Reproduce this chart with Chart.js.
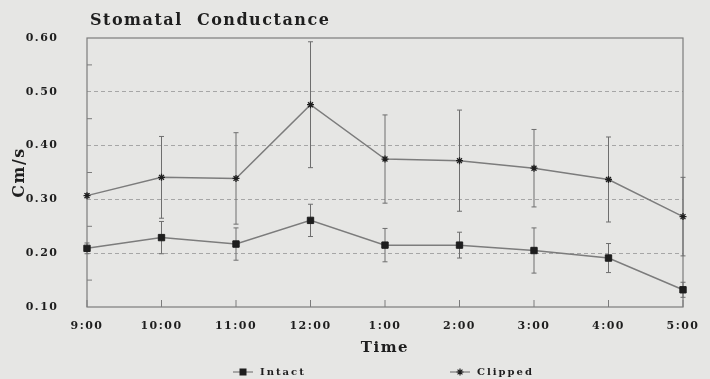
<!DOCTYPE html>
<html>
<head>
<meta charset="utf-8">
<script src="https://cdn.jsdelivr.net/npm/chart.js@4"></script>
<style>
  html, body { margin: 0; padding: 0; background: #e6e6e4; }
  #wrap { width: 710px; height: 379px; }
</style>
</head>
<body>
<div id="wrap"><canvas id="chart"></canvas></div>
<script>
// stomatal conductance, intact vs clipped
const times = ['9:00', '10:00', '11:00', '12:00', '1:00', '2:00', '3:00', '4:00', '5:00'];
const intact = [0.209, 0.229, 0.217, 0.261, 0.215, 0.215, 0.205, 0.191, 0.132];
const intactErr = [0.010, 0.030, 0.030, 0.030, 0.031, 0.024, 0.042, 0.027, 0.014];
const clipped = [0.307, 0.341, 0.339, 0.476, 0.375, 0.372, 0.358, 0.337, 0.268];
const clippedErr = [0.004, 0.076, 0.085, 0.117, 0.082, 0.094, 0.072, 0.079, 0.073];
const yTicks = [0.1, 0.2, 0.3, 0.4, 0.5, 0.6];

const INK = '#1e1e1e';
const LINE = '#7c7c7c';
const GRID = '#a6a6a6';
const FONT = "'DejaVu Serif', serif";

// letter spacing on the context, the old plotter font is wide
const spacing = {
  id: 'spacing',
  beforeLayout: (chart) => { chart.ctx.letterSpacing = '1.5px'; },
  beforeDraw: (chart) => { chart.ctx.letterSpacing = '1.5px'; },
};

function drawMarker(ctx, style, x, y) {
  ctx.fillStyle = INK;
  ctx.strokeStyle = INK;
  if (style === 'rect') {
    ctx.fillRect(x - 3.5, y - 3.5, 7, 7);
  } else {
    const r = 3.5;
    ctx.lineWidth = 1.2;
    ctx.beginPath();
    ctx.moveTo(x - r, y); ctx.lineTo(x + r, y);
    ctx.moveTo(x, y - r); ctx.lineTo(x, y + r);
    ctx.moveTo(x - r * 0.7, y - r * 0.7); ctx.lineTo(x + r * 0.7, y + r * 0.7);
    ctx.moveTo(x - r * 0.7, y + r * 0.7); ctx.lineTo(x + r * 0.7, y - r * 0.7);
    ctx.stroke();
  }
}

const frame = {
  id: 'frame',
  beforeDatasetsDraw: (chart) => {
    const { ctx, chartArea: a, scales } = chart;
    ctx.save();
    ctx.strokeStyle = LINE;
    ctx.lineWidth = 1.2;
    ctx.strokeRect(a.left, a.top, a.right - a.left, a.bottom - a.top);
    // small inner ticks on the time axis
    ctx.lineWidth = 1;
    times.forEach((t, i) => {
      const x = scales.x.getPixelForValue(i);
      ctx.beginPath();
      ctx.moveTo(x, a.bottom);
      ctx.lineTo(x, a.bottom - 7);
      ctx.stroke();
    });
    // minor ticks on the left axis
    for (let v = 0.15; v < 0.6; v += 0.1) {
      const y = scales.y.getPixelForValue(v);
      ctx.beginPath();
      ctx.moveTo(a.left, y);
      ctx.lineTo(a.left + 5, y);
      ctx.stroke();
    }
    // error bars
    ctx.strokeStyle = '#6e6e6e';
    ctx.lineWidth = 1;
    [[intact, intactErr], [clipped, clippedErr]].forEach(([vals, errs]) => {
      vals.forEach((v, i) => {
        const x = scales.x.getPixelForValue(i);
        const y1 = scales.y.getPixelForValue(v + errs[i]);
        const y2 = scales.y.getPixelForValue(v - errs[i]);
        ctx.beginPath();
        ctx.moveTo(x, y1);
        ctx.lineTo(x, y2);
        ctx.moveTo(x - 2.5, y1);
        ctx.lineTo(x + 2.5, y1);
        ctx.moveTo(x - 2.5, y2);
        ctx.lineTo(x + 2.5, y2);
        ctx.stroke();
      });
    });
    ctx.restore();
  },
  afterDraw: (chart) => {
    const { ctx, chartArea: a } = chart;
    ctx.save();
    ctx.letterSpacing = '1.5px';
    ctx.fillStyle = INK;
    ctx.font = `bold 16px ${FONT}`;
    ctx.textBaseline = 'alphabetic';
    ctx.fillText('Stomatal  Conductance', a.left + 3, 25);

    // legend, two items spread wide like the original plot
    const ly = 372;
    const items = [
      { x: 233, ds: chart.data.datasets[0] },
      { x: 450, ds: chart.data.datasets[1] },
    ];
    ctx.font = `bold 10px ${FONT}`;
    ctx.letterSpacing = '2px';
    ctx.textBaseline = 'middle';
    items.forEach(({ x, ds }) => {
      ctx.strokeStyle = LINE;
      ctx.lineWidth = 1.2;
      ctx.beginPath();
      ctx.moveTo(x, ly);
      ctx.lineTo(x + 20, ly);
      ctx.stroke();
      drawMarker(ctx, ds.pointStyle, x + 10, ly);
      ctx.fillStyle = INK;
      ctx.fillText(ds.label, x + 27, ly);
    });
    ctx.restore();
  },
};

new Chart(document.getElementById('chart'), {
  type: 'line',
  data: {
    labels: times,
    datasets: [
      {
        label: 'Intact',
        data: intact,
        borderColor: LINE,
        borderWidth: 1.5,
        pointStyle: 'rect',
        pointRadius: 4.5,
        pointBackgroundColor: INK,
        pointBorderColor: INK,
        pointBorderWidth: 1,
        tension: 0,
      },
      {
        label: 'Clipped',
        data: clipped,
        borderColor: LINE,
        borderWidth: 1.5,
        pointStyle: 'star',
        pointRadius: 3.5,
        pointBackgroundColor: INK,
        pointBorderColor: INK,
        pointBorderWidth: 1.3,
        tension: 0,
      },
    ],
  },
  options: {
    responsive: true,
    maintainAspectRatio: false,
    animation: false,
    layout: { padding: { top: 38, left: 0, right: 27, bottom: 22 } },
    plugins: {
      title: { display: false },
      tooltip: { enabled: false },
      legend: { display: false },
    },
    scales: {
      x: {
        offset: false,
        grid: { display: false },
        border: { display: false },
        afterFit: (s) => { s.height = 50; },
        ticks: {
          color: INK,
          padding: 5,
          maxRotation: 0,
          autoSkip: false,
          font: { family: FONT, size: 11, weight: 'bold' },
        },
        title: {
          display: true,
          text: 'Time',
          color: INK,
          padding: { top: 4, bottom: 0 },
          font: { family: FONT, size: 15, weight: 'bold' },
        },
      },
      y: {
        min: 0.1,
        max: 0.6,
        afterBuildTicks: (scale) => {
          scale.ticks = yTicks.map((v) => ({ value: v }));
        },
        afterFit: (s) => { s.width = 87; },
        grid: {
          drawTicks: false,
          color: (c) => (c.tick && c.tick.value > 0.15 && c.tick.value < 0.55 ? GRID : 'rgba(0,0,0,0)'),
          lineWidth: 1,
        },
        border: { display: false, dash: [4, 3] },
        ticks: {
          color: INK,
          padding: 28.5,
          callback: (v) => Number(v).toFixed(2),
          font: { family: FONT, size: 11, weight: 'bold' },
        },
        title: {
          display: true,
          text: 'Cm/s',
          color: INK,
          padding: { top: 10, bottom: 0 },
          font: { family: FONT, size: 16, weight: 'bold' },
        },
      },
    },
  },
  plugins: [spacing, frame],
});
</script>
</body>
</html>
